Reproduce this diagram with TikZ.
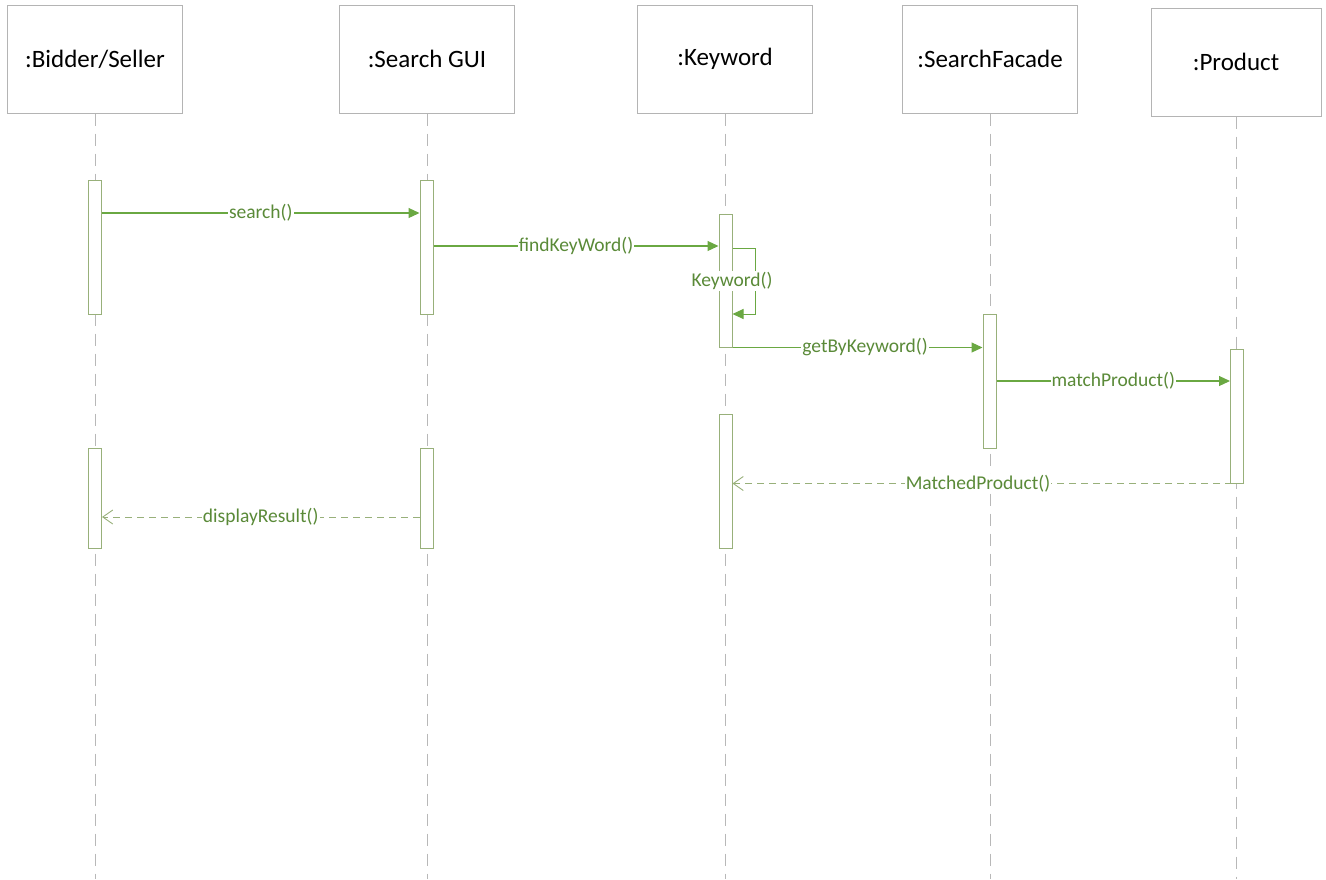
\documentclass[tikz,border=0pt]{standalone}
\usepackage{fontspec}
\setmainfont{Carlito}
\usetikzlibrary{arrows.meta}

\definecolor{boxline}{HTML}{B4B4B4}
\definecolor{lifegray}{HTML}{B8B8B8}
\definecolor{actline}{HTML}{98B07A}
\definecolor{msgline}{HTML}{6AA842}
\definecolor{msgtext}{HTML}{5A8A38}

\tikzset{
  objbox/.style={draw=boxline, line width=1pt, fill=white, minimum width=175pt,
    minimum height=108pt, inner sep=0pt, font=\fontsize{25}{30}\selectfont},
  lifeline/.style={draw=lifegray, line width=1pt, dash pattern=on 12pt off 8pt},
  actbar/.style={draw=actline, line width=1pt, fill=white, minimum width=13pt, inner sep=0pt},
  callmsg/.style={draw=msgline, line width=1.2pt, -{Triangle[length=11pt,width=10pt]}},
  retmsg/.style={draw=actline, line width=1pt, dash pattern=on 7pt off 5pt,
    -{Straight Barb[length=10pt,width=14pt,line width=0.9pt]}},
  msglabel/.style={fill=white, inner sep=1pt, text=msgtext, font=\fontsize{19.5}{23}\selectfont}
}

\begin{document}
\begin{tikzpicture}[x=1pt,y=-1pt]
  \useasboundingbox (0,0) rectangle (1326,879);

  % participants
  \node[objbox] (bs) at (95,59)   {:Bidder/Seller};
  \node[objbox] (gui) at (427,59) {:Search GUI};
  \node[objbox] (kw) at (725,59)  {:Keyword};
  \node[objbox] (sf) at (990,59)  {:SearchFacade};
  \node[objbox, minimum width=170pt] (pr) at (1236,62) {:Product};

  % lifeline ends
  \coordinate (bsend) at (95,879);
  \coordinate (guiend) at (427,879);
  \coordinate (kwend) at (725,879);
  \coordinate (sfend) at (990,879);
  \coordinate (prend) at (1236,879);

  \draw[lifeline] (bs.south) -- (bsend);
  \draw[lifeline] (gui.south) -- (guiend);
  \draw[lifeline] (kw.south) -- (kwend);
  \draw[lifeline] (sf.south) -- (sfend);
  \draw[lifeline] (pr.south) -- (prend);

  % activation bars
  \node[actbar, minimum height=134pt] (bsA) at (95,247) {};
  \node[actbar, minimum height=134pt] (guiA) at (426.5,247) {};
  \node[actbar, minimum height=133pt] (kwA) at (725.5,280.5) {};
  \node[actbar, minimum height=134pt] (sfA) at (989.5,381) {};
  \node[actbar, minimum height=134pt] (prA) at (1237,416) {};
  \node[actbar, minimum height=100pt] (bsB) at (95,498) {};
  \node[actbar, minimum height=100pt] (guiB) at (426.5,498) {};
  \node[actbar, minimum height=134pt] (kwB) at (725.5,481) {};

  % synchronous calls
  \draw[callmsg] (bsA.east |- 0,213) -- node[msglabel] {search()} (guiA.west |- 0,213);
  \draw[callmsg] (guiA.east |- 0,246) -- node[msglabel] {findKeyWord()} (kwA.west |- 0,246);
  \draw[callmsg] (kwA.south east) -- node[msglabel, pos=0.53] {getByKeyword()} (sfA.west |- kwA.south);
  \draw[callmsg] (sfA.east |- 0,381) -- node[msglabel] {matchProduct()} (prA.west |- 0,381);

  % self call on the keyword object
  \coordinate (selfA) at (755,248);
  \coordinate (selfB) at (755,314);
  \draw[callmsg, line width=1pt] (kwA.east |- selfA) -- (selfA) -- (selfB) -- (kwA.east |- selfB);
  \node[msglabel] (selflbl) at (732,281) {Keyword()};

  % replies
  \draw[retmsg] (prA.south east) -- node[msglabel, pos=0.52] {MatchedProduct()} (kwB.east |- prA.south);
  \draw[retmsg] (guiB.west |- 0,517) -- node[msglabel] {displayResult()} (bsB.east |- 0,517);
\end{tikzpicture}
\end{document}
